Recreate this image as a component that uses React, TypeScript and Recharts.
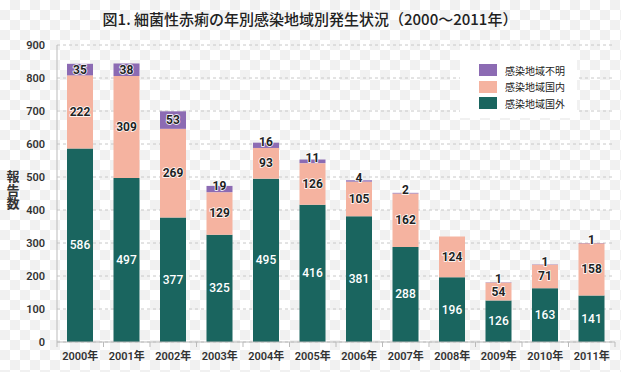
import React from 'react';
import {
  BarChart,
  Bar,
  XAxis,
  YAxis,
  CartesianGrid,
  LabelList,
} from 'recharts';

document.body.style.margin = '0';

const years = ['2000年', '2001年', '2002年', '2003年', '2004年', '2005年', '2006年', '2007年', '2008年', '2009年', '2010年', '2011年'];
const overseas = [586, 497, 377, 325, 495, 416, 381, 288, 196, 126, 163, 141];
const domestic = [222, 309, 269, 129, 93, 126, 105, 162, 124, 54, 71, 158];
const unknown = [35, 38, 53, 19, 16, 11, 4, 2, 0, 1, 1, 1];
const yTicks = [0, 100, 200, 300, 400, 500, 600, 700, 800, 900];

const TEAL = '#1a655f';
const SALMON = '#f5b3a0';
const PURPLE = '#8c6bb3';
const FONT = "Roboto, 'Noto Sans CJK JP', sans-serif";

const data = years.map((year, i) => ({
  year,
  overseas: overseas[i],
  domestic: domestic[i],
  unknown: unknown[i],
}));

const legendItems = [
  { name: '感染地域不明', color: PURPLE },
  { name: '感染地域国内', color: SALMON },
  { name: '感染地域国外', color: TEAL },
];

const makeLabel = (color: string, halo: boolean) => (props: any) => {
  const { x, y, width, height, value } = props;
  if (!value) return null;
  const h = Number(height);
  // tiny slices: lift the number a little so it sits on the bar top
  const cy = Number(y) + h / 2 - (h < 8 ? 3 : 0);
  return (
    <text
      x={Number(x) + Number(width) / 2}
      y={cy}
      textAnchor="middle"
      dominantBaseline="central"
      fill={color}
      fontSize={12}
      fontWeight={halo ? 700 : 500}
      fontFamily={FONT}
      stroke={halo ? '#fff' : 'none'}
      strokeWidth={halo ? 1.5 : 0}
      paintOrder="stroke"
    >
      {value}
    </text>
  );
};

const BAND = (615 - 57) / years.length;

const XTick = (props: any) => {
  const { x, y, payload, index } = props;
  return (
    <g>
      <line x1={x - BAND / 2} x2={x - BAND / 2} y1={y - 8} y2={y - 3} stroke="#bbb" />
      {index === years.length - 1 && (
        <line x1={x + BAND / 2} x2={x + BAND / 2} y1={y - 8} y2={y - 3} stroke="#bbb" />
      )}
      <text x={x} y={y + 10} textAnchor="middle" fill="#333" fontSize={11} fontWeight={600} fontFamily={FONT}>
        {payload.value}
      </text>
    </g>
  );
};

const YTitle = () => (
  <text x={13} y={181} textAnchor="middle" fill="#333" fontSize={13} fontWeight={700} fontFamily={FONT}>
    <tspan x={13} dy={0}>報</tspan>
    <tspan x={13} dy={13.5}>告</tspan>
    <tspan x={13} dy={13.5}>数</tspan>
  </text>
);

const LegendBox = () => (
  <div
    style={{
      position: 'absolute',
      top: 50,
      left: 460,
      background: '#fff',
      width: 117,
      height: 68,
      boxSizing: 'border-box',
      padding: '12px 0 0 19px',
      fontFamily: FONT,
      zIndex: 2,
    }}
  >
    {legendItems.map((item) => (
      <div key={item.name} style={{ display: 'flex', alignItems: 'center', height: 16.5 }}>
        <span style={{ width: 18, height: 12, background: item.color, display: 'inline-block' }} />
        <span style={{ marginLeft: 8, fontSize: 10, color: '#222' }}>{item.name}</span>
      </div>
    ))}
  </div>
);

export default function App() {
  return (
    <div
      style={{
        position: 'relative',
        width: 621,
        height: 372,
        backgroundColor: '#fff',
        backgroundImage:
          'conic-gradient(#f1f1f1 25%, #fff 0 50%, #f1f1f1 0 75%, #fff 0)',
        backgroundSize: '20px 20px',
      }}
    >
      <div
        style={{
          position: 'absolute',
          top: 8,
          left: 0,
          width: 620,
          textAlign: 'center',
          fontFamily: "'Noto Sans CJK JP', sans-serif",
          fontSize: 15,
          fontWeight: 500,
          color: '#222',
          zIndex: 2,
        }}
      >
        図1. 細菌性赤痢の年別感染地域別発生状況（2000〜2011年）
      </div>
      <LegendBox />
      <BarChart
        width={621}
        height={372}
        data={data}
        margin={{ top: 45, right: 6, left: 0, bottom: 0 }}
        barSize={26}
      >
        <CartesianGrid vertical={false} stroke="#c8c8c8" strokeDasharray="3 3" />
        <XAxis
          dataKey="year"
          height={30}
          axisLine={{ stroke: '#bbb' }}
          tickLine={false}
          tick={<XTick />}
          interval={0}
        />
        <YAxis
          width={57}
          domain={[0, 900]}
          ticks={yTicks}
          interval={0}
          axisLine={{ stroke: '#bbb' }}
          tickLine={false}
          tick={{ fill: '#333', fontSize: 11, fontWeight: 600, fontFamily: FONT }}
          tickMargin={6}
          label={<YTitle />}
        />
        <Bar dataKey="overseas" stackId="a" fill={TEAL} isAnimationActive={false}>
          <LabelList dataKey="overseas" content={makeLabel('#fff', false)} />
        </Bar>
        <Bar dataKey="domestic" stackId="a" fill={SALMON} isAnimationActive={false}>
          <LabelList dataKey="domestic" content={makeLabel('#222', true)} />
        </Bar>
        <Bar dataKey="unknown" stackId="a" fill={PURPLE} isAnimationActive={false}>
          <LabelList dataKey="unknown" content={makeLabel('#222', true)} />
        </Bar>
      </BarChart>
    </div>
  );
}
